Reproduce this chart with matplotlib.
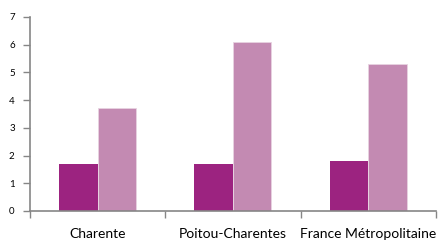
import matplotlib
matplotlib.use("Agg")
import matplotlib.pyplot as plt
import numpy as np

categories = ["Charente", "Poitou-Charentes", "France Métropolitaine"]
series_a = [1.7, 1.7, 1.8]
series_b = [3.7, 6.1, 5.3]
yticks = [0, 1, 2, 3, 4, 5, 6, 7]

plt.rcParams['font.family'] = ['Lato', 'DejaVu Sans']
fig = plt.figure(figsize=(4.38, 2.41), dpi=100)
ax = fig.add_axes([0.0685, 0.1245, 0.9265, 0.805])

x = np.arange(len(categories))
w = 0.285
ax.bar(x - w / 2, series_a, width=w, color="#9C2380", edgecolor="none")
ax.bar(x + w / 2, series_b, width=w, color="#C38AB2", edgecolor="#E8D3E1", linewidth=0.6)

ax.set_xlim(-0.5, len(categories) - 0.5)
ax.set_ylim(0, 7)
ax.set_yticks(yticks)
ax.set_yticklabels([str(t) for t in yticks], fontsize=7)
ax.set_xticks(np.arange(len(categories) + 1) - 0.5)
ax.set_xticklabels([])
ax.set_xticks(x, minor=True)
ax.set_xticklabels(categories, minor=True, fontsize=10)
ax.tick_params(axis='x', which='minor', length=0, pad=12)
ax.tick_params(axis='x', which='major', length=5, color="#868686", width=1)
ax.tick_params(axis='y', length=5, color="#868686", width=1, pad=6)

for s in ["top", "right"]:
    ax.spines[s].set_visible(False)
for s in ["left", "bottom"]:
    ax.spines[s].set_color("#868686")
    ax.spines[s].set_linewidth(1.2)

fig.savefig("out.png", dpi=100)
